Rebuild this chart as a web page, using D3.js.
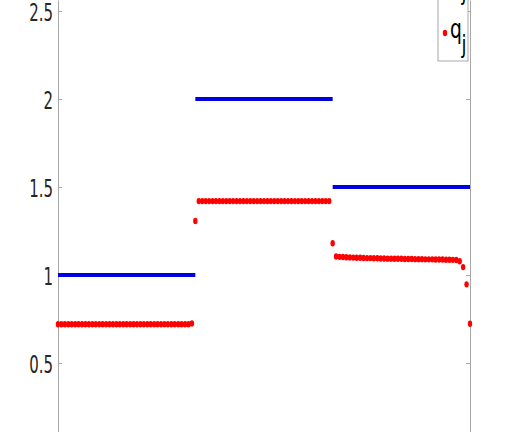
<!DOCTYPE html>
<html>
<head>
<meta charset="utf-8">
<script src="https://cdn.jsdelivr.net/npm/d3@7/dist/d3.min.js"></script>
<style>
  body { margin: 0; background: #fff; }
  svg { display: block; }
</style>
</head>
<body>
<svg width="510" height="432"></svg>
<script>
// piecewise constant p_j (one value per third of the interval)
let pValues = [1, 2, 1.5];
let pBounds = [[0, 40], [40, 80], [80, 120]];

// q_j samples, index 0..120
let qSeg1 = [
  0.72, 0.72, 0.72, 0.72, 0.72, 0.72, 0.72, 0.72, 0.72, 0.72,
  0.72, 0.72, 0.72, 0.72, 0.72, 0.72, 0.72, 0.72, 0.72, 0.72,
  0.72, 0.72, 0.72, 0.72, 0.72, 0.72, 0.72, 0.72, 0.72, 0.72,
  0.72, 0.72, 0.72, 0.72, 0.72, 0.72, 0.72, 0.72, 0.72, 0.725
];
let qSeg2 = [
  1.307, 1.42, 1.42, 1.42, 1.42, 1.42, 1.42, 1.42, 1.42, 1.42,
  1.42, 1.42, 1.42, 1.42, 1.42, 1.42, 1.42, 1.42, 1.42, 1.42,
  1.42, 1.42, 1.42, 1.42, 1.42, 1.42, 1.42, 1.42, 1.42, 1.42,
  1.42, 1.42, 1.42, 1.42, 1.42, 1.42, 1.42, 1.42, 1.42, 1.42
];
let qSeg3 = [
  1.18, 1.105, 1.103, 1.102, 1.101, 1.100, 1.099, 1.098, 1.098, 1.097,
  1.096, 1.096, 1.095, 1.095, 1.094, 1.094, 1.093, 1.093, 1.092, 1.092,
  1.092, 1.091, 1.091, 1.091, 1.090, 1.090, 1.090, 1.089, 1.089, 1.089,
  1.088, 1.088, 1.088, 1.087, 1.087, 1.086, 1.085, 1.078, 1.045, 0.947,
  0.723
];
let qValues = qSeg1.concat(qSeg2, qSeg3);

let yTicks = [0.5, 1, 1.5, 2, 2.5];
let yTickLabels = ['0.5', '1', '1.5', '2', '2.5'];

let svg = d3.select('svg');

// scales (plot area runs past the picture at the bottom and top)
let x = d3.scaleLinear().domain([0, 120]).range([58, 470]);
let y = d3.scaleLinear().domain([0, 2.5625]).range([451, 0]);

let axisColor = '#a8a8a8';

// left axis
let yAxis = svg.append('g')
  .attr('transform', `translate(${x(0)}, 0)`)
  .call(d3.axisLeft(y).tickValues(yTicks)
    .tickFormat((d, i) => yTickLabels[i])
    .tickSizeInner(-4).tickSizeOuter(0).tickPadding(5));

yAxis.select('.domain').attr('stroke', axisColor);
yAxis.selectAll('.tick line').attr('stroke', axisColor);
yAxis.selectAll('.tick text')
  .attr('fill', '#262626')
  .attr('font-family', 'DejaVu Sans, sans-serif')
  .attr('font-size', 25)
  .attr('x', 0)
  .attr('dy', '0.36em')
  .attr('transform', 'translate(-5,0) scale(0.6,1)');

// right axis (box)
let yAxisR = svg.append('g')
  .attr('transform', `translate(${x(120)}, 0)`)
  .call(d3.axisRight(y).tickValues(yTicks).tickFormat('')
    .tickSizeInner(-4).tickSizeOuter(0));
yAxisR.select('.domain').attr('stroke', axisColor);
yAxisR.selectAll('.tick line').attr('stroke', axisColor);

// p_j : blue steps
svg.append('g')
  .selectAll('line')
  .data(pValues)
  .join('line')
  .attr('x1', (d, i) => x(pBounds[i][0]))
  .attr('x2', (d, i) => x(pBounds[i][1]))
  .attr('y1', (d) => y(d))
  .attr('y2', (d) => y(d))
  .attr('stroke', '#0000e0')
  .attr('stroke-width', 4);

// q_j : red dots
svg.append('g')
  .selectAll('ellipse')
  .data(qValues)
  .join('ellipse')
  .attr('cx', (d, i) => x(i))
  .attr('cy', (d) => y(d))
  .attr('rx', 2.2)
  .attr('ry', 3.2)
  .attr('fill', '#ff0000');

// legend (top part is outside the picture)
let legend = svg.append('g');

legend.append('rect')
  .attr('x', 438)
  .attr('y', -60)
  .attr('width', 30)
  .attr('height', 121)
  .attr('fill', '#fff')
  .attr('stroke', axisColor);

let entries = [
  { name: 'p', cy: -20, color: '#0000e0', type: 'line' },
  { name: 'q', cy: 33, color: '#ff0000', type: 'dot' }
];

entries.forEach((e) => {
  if (e.type === 'line') {
    legend.append('line')
      .attr('x1', 441).attr('x2', 450)
      .attr('y1', e.cy).attr('y2', e.cy)
      .attr('stroke', e.color).attr('stroke-width', 4);
  } else {
    legend.append('ellipse')
      .attr('cx', 445).attr('cy', e.cy)
      .attr('rx', 2.2).attr('ry', 3.2)
      .attr('fill', e.color);
  }
  legend.append('text')
    .attr('transform', `translate(450, ${e.cy + 5}) scale(0.72,1)`)
    .attr('font-family', 'DejaVu Sans, sans-serif')
    .attr('font-size', 26)
    .attr('fill', '#000')
    .text(e.name);
  legend.append('text')
    .attr('transform', `translate(461.5, ${e.cy + 20}) scale(0.72,1)`)
    .attr('font-family', 'DejaVu Sans, sans-serif')
    .attr('font-size', 25)
    .attr('fill', '#000')
    .text('j');
});
</script>
</body>
</html>
